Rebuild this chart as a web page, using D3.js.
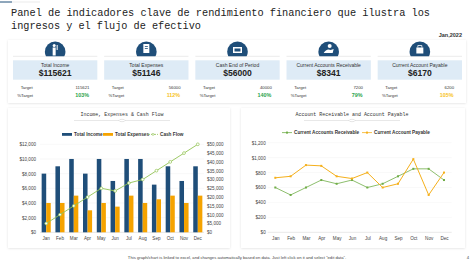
<!DOCTYPE html>
<html><head><meta charset="utf-8">
<script src="https://cdn.jsdelivr.net/npm/d3@7"></script>
<style>
body{margin:0;background:#fff;}
svg{display:block;font-family:Arial,"Liberation Sans",sans-serif;}
</style></head>
<body><svg id="c" width="474" height="266"></svg>
<script>
const months = ["Jan","Feb","Mar","Apr","May","Jun","Jul","Aug","Sep","Oct","Nov","Dec"];
const totalIncome = [8000,9000,10000,8000,10000,7000,10000,10000,6500,9000,7000,9000];
const totalExpenses = [4000,4000,5000,3000,4000,3500,5000,4000,4500,5000,4000,5000];
const cashFlow = [5000,10000,15000,20000,25000,23500,28000,30000,35000,40000,45000,50000];
const receivable = [600,500,600,700,650,700,600,650,750,850,850,700];
const payable = [730,750,900,890,750,720,800,600,650,980,500,800];
const leftTicks = [0,2000,4000,6000,8000,10000,12000];
const rightTicks = [0,5000,10000,15000,20000,25000,30000,35000,40000,45000,50000];
const arTicks = [0,200,400,600,800,1000,1200];
const kpiLabels = ["Total Income","Total Expenses","Cash End of Period","Current Accounts Receivable","Current Account Payable"];
const kpiValues = ["$115621","$51146","$56000","$8341","$6170"];
const kpiTargets = ["115621","56000","40000","7200","6200"];
const kpiPercents = ["103%","112%","140%","79%","105%"];
const kpiGood = [true,false,true,true,false];

const svg = d3.select("#c");
const NAVY="#1f4e79", ORANGE="#f5a300", GREEN="#92c353", GREEN2="#70ad47";
const mono = "'Liberation Mono','DejaVu Sans Mono',monospace";

const defs = svg.append("defs");
const f = defs.append("filter").attr("id","sh").attr("x","-5%").attr("y","-5%").attr("width","110%").attr("height","115%");
f.append("feDropShadow").attr("dx",0).attr("dy",0.5).attr("stdDeviation",0.8).attr("flood-color","#000").attr("flood-opacity",0.12);

// decoration top-left
svg.append("line").attr("x1",0).attr("x2",12).attr("y1",2).attr("y2",2).attr("stroke",NAVY).attr("stroke-width",1);
svg.append("line").attr("x1",12).attr("x2",40).attr("y1",2).attr("y2",2).attr("stroke","#ddd").attr("stroke-width",0.6);

// Title
svg.append("text").attr("x",11).attr("y",15.5).attr("font-family",mono).attr("font-size",11)
  .attr("fill","#222").attr("textLength",419).attr("lengthAdjust","spacingAndGlyphs")
  .text("Panel de indicadores clave de rendimiento financiero que ilustra los");
svg.append("text").attr("x",11).attr("y",28.8).attr("font-family",mono).attr("font-size",11)
  .attr("fill","#222").attr("textLength",190).attr("lengthAdjust","spacingAndGlyphs")
  .text("ingresos y el flujo de efectivo");
svg.append("text").attr("x",462).attr("y",37).attr("text-anchor","end").attr("font-size",5.5)
  .attr("font-weight","bold").attr("fill","#333").text("Jan,2022");

// KPI panel
svg.append("rect").attr("x",8).attr("y",40).attr("width",458).attr("height",63).attr("fill","#fff").attr("filter","url(#sh)");
const cardX = d3.scaleBand().domain(d3.range(5)).range([13,462]).paddingInner(0.075);
kpiLabels.forEach((lab,i)=>{
  const x0 = cardX(i), w = cardX.bandwidth(), cx = x0+w/2;
  svg.append("line").attr("x1",x0).attr("x2",x0+w).attr("y1",56.3).attr("y2",56.3).attr("stroke","#e3e3e3").attr("stroke-width",0.7);
  const clipId="cl"+i;
  defs.append("clipPath").attr("id",clipId).append("rect").attr("x",cx-12).attr("y",38).attr("width",24).attr("height",18.3);
  svg.append("circle").attr("cx",cx).attr("cy",51.8).attr("r",10.3).attr("fill",NAVY).attr("clip-path",`url(#${clipId})`);
  const g = svg.append("g").attr("fill","#fff");
  if(i===0){g.append("circle").attr("cx",cx-1).attr("cy",45.5).attr("r",1.5);g.append("rect").attr("x",cx-2.5).attr("y",47.5).attr("width",3).attr("height",8);g.append("rect").attr("x",cx+1.5).attr("y",45).attr("width",1).attr("height",5);}
  if(i===1){g.append("rect").attr("x",cx-3).attr("y",44).attr("width",6).attr("height",9);g.append("rect").attr("x",cx-1.5).attr("y",46).attr("width",3).attr("height",0.8).attr("fill",NAVY);g.append("rect").attr("x",cx-1.5).attr("y",48).attr("width",3).attr("height",0.8).attr("fill",NAVY);}
  if(i===2){g.append("rect").attr("x",cx-4.5).attr("y",47).attr("width",9).attr("height",6);g.append("rect").attr("x",cx-3).attr("y",48.5).attr("width",6).attr("height",3).attr("fill",NAVY);}
  if(i===3){g.append("path").attr("d",`M${cx-5},53 Q${cx-2},48 ${cx+2},50 L${cx+5},49 L${cx+4},53 Z`);g.append("circle").attr("cx",cx+1).attr("cy",46).attr("r",2);}
  if(i===4){g.append("rect").attr("x",cx-3.5).attr("y",47.5).attr("width",7).attr("height",6);g.append("path").attr("d",`M${cx-2},47.5 v-2 h4 v2`).attr("fill","none").attr("stroke","#fff").attr("stroke-width",0.8);}
  svg.append("rect").attr("x",x0).attr("y",60.3).attr("width",w).attr("height",19.4).attr("fill","#deebf6");
  svg.append("text").attr("x",cx).attr("y",66.7).attr("text-anchor","middle").attr("font-size",5).attr("fill","#333").text(lab);
  svg.append("text").attr("x",cx).attr("y",76.4).attr("text-anchor","middle").attr("font-size",8.6).attr("font-weight","bold").attr("fill","#222").text(kpiValues[i]);
  svg.append("text").attr("x",x0+7.7).attr("y",89).attr("font-size",4.3).attr("fill","#333").text("Target");
  svg.append("text").attr("x",x0+4.3).attr("y",97).attr("font-size",4.3).attr("fill","#333").text("%Target");
  svg.append("text").attr("x",x0+76.5).attr("y",89).attr("text-anchor","end").attr("font-size",4.3).attr("fill","#333").text(kpiTargets[i]);
  svg.append("text").attr("x",x0+76).attr("y",97.3).attr("text-anchor","end").attr("font-size",5.4).attr("font-weight","bold")
    .attr("fill",kpiGood[i]?"#2ca44e":"#f7c325").text(kpiPercents[i]);
});

// Panels
svg.append("rect").attr("x",8).attr("y",108).attr("width",222).attr("height",140).attr("fill","#fff").attr("filter","url(#sh)");
svg.append("rect").attr("x",241).attr("y",108).attr("width",224).attr("height",140).attr("fill","#fff").attr("filter","url(#sh)");

function chartTitle(cx, y, txt, len){
  svg.append("text").attr("x",cx).attr("y",y).attr("text-anchor","middle").attr("font-family",mono).attr("font-size",6)
    .attr("fill","#333").attr("textLength",len).attr("lengthAdjust","spacingAndGlyphs").text(txt);
  svg.append("line").attr("x1",cx-48).attr("x2",cx+48).attr("y1",120.5).attr("y2",120.5).attr("stroke","#d8d8d8").attr("stroke-width",0.6);
  svg.append("ellipse").attr("cx",cx).attr("cy",120.5).attr("rx",3).attr("ry",1.2).attr("fill","#fff").attr("stroke","#ccc").attr("stroke-width",0.5);
}

// ---- Left chart
chartTitle(122, 116, "Income, Expenses & Cash Flow", 83);
const x = d3.scaleBand().domain(months).range([40,204]).paddingInner(0.34).paddingOuter(0.12);
const xs = d3.scaleBand().domain(["i","e"]).range([0,x.bandwidth()]);
const yL = d3.scaleLinear().domain([0,12000]).range([232.3,144.3]);
const yR = d3.scaleLinear().domain([0,50000]).range([232.3,144.3]);

svg.append("g").selectAll("line").data(leftTicks).join("line")
  .attr("x1",40).attr("x2",204).attr("y1",d=>yL(d)).attr("y2",d=>yL(d)).attr("stroke","#f0f0f0").attr("stroke-width",0.5);

const axL = svg.append("g").attr("transform","translate(40,0)")
  .call(d3.axisLeft(yL).tickValues(leftTicks).tickSize(0).tickPadding(4).tickFormat(d=>"$"+d3.format(",")(d)));
const axR = svg.append("g").attr("transform","translate(204,0)")
  .call(d3.axisRight(yR).tickValues(rightTicks).tickSize(0).tickPadding(3).tickFormat(d=>"$"+d3.format(",")(d)));
const axB = svg.append("g").attr("transform","translate(0,232.3)")
  .call(d3.axisBottom(x).tickSize(0).tickPadding(4));
[axL,axR,axB].forEach(a=>{a.select(".domain").remove();a.selectAll("text").attr("font-size",4.6).attr("fill","#444").attr("font-family","Arial,'Liberation Sans',sans-serif");});
svg.append("line").attr("x1",40).attr("x2",204).attr("y1",232.3).attr("y2",232.3).attr("stroke","#d9d9d9").attr("stroke-width",0.6);

svg.append("g").selectAll("rect").data(months).join("rect")
  .attr("x",(m)=>x(m)+xs("i")).attr("width",xs.bandwidth())
  .attr("y",(m,i)=>yL(totalIncome[i])).attr("height",(m,i)=>yL(0)-yL(totalIncome[i])).attr("fill",NAVY);
svg.append("g").selectAll("rect").data(months).join("rect")
  .attr("x",(m)=>x(m)+xs("e")).attr("width",xs.bandwidth())
  .attr("y",(m,i)=>yL(totalExpenses[i])).attr("height",(m,i)=>yL(0)-yL(totalExpenses[i])).attr("fill",ORANGE);
const cfLine = d3.line().x((d,i)=>x(months[i])+x.bandwidth()/2).y(d=>yR(d));
svg.append("path").datum(cashFlow).attr("d",cfLine).attr("fill","none").attr("stroke",GREEN).attr("stroke-width",0.9);
svg.append("g").selectAll("circle").data(cashFlow).join("circle")
  .attr("cx",(d,i)=>x(months[i])+x.bandwidth()/2).attr("cy",d=>yR(d)).attr("r",1.4)
  .attr("fill","#fff").attr("stroke",GREEN).attr("stroke-width",0.7);

// legend left
const lgY = 135.8;
svg.append("rect").attr("x",62).attr("y",lgY-2.8).attr("width",10).attr("height",2.8).attr("fill",NAVY);
svg.append("text").attr("x",74).attr("y",lgY).attr("font-size",4.7).attr("font-weight","bold").attr("fill","#333").text("Total Income");
svg.append("rect").attr("x",103).attr("y",lgY-2.8).attr("width",10).attr("height",2.8).attr("fill",ORANGE);
svg.append("text").attr("x",115).attr("y",lgY).attr("font-size",4.7).attr("font-weight","bold").attr("fill","#333").text("Total Expenses");
svg.append("line").attr("x1",148).attr("x2",158).attr("y1",lgY-1.4).attr("y2",lgY-1.4).attr("stroke",GREEN).attr("stroke-width",0.8).attr("stroke-dasharray","2,1");
svg.append("circle").attr("cx",153).attr("cy",lgY-1.4).attr("r",1).attr("fill","#fff").attr("stroke",GREEN).attr("stroke-width",0.6);
svg.append("text").attr("x",160).attr("y",lgY).attr("font-size",4.7).attr("font-weight","bold").attr("fill","#333").text("Cash Flow");

// ---- Right chart
chartTitle(352, 116, "Account Receivable and Account Payable", 113);
const x2 = d3.scalePoint().domain(months).range([275.3,444]);
const y2 = d3.scaleLinear().domain([0,1200]).range([232.3,142.7]);
svg.append("g").selectAll("line").data(arTicks.slice(1)).join("line")
  .attr("x1",267.7).attr("x2",451.7).attr("y1",d=>y2(d)).attr("y2",d=>y2(d)).attr("stroke","#f2f2f2").attr("stroke-width",0.5);
const ax2L = svg.append("g").attr("transform","translate(267.7,0)")
  .call(d3.axisLeft(y2).tickValues(arTicks).tickSize(0).tickPadding(2).tickFormat(d=>"$"+d3.format(",")(d)));
const ax2B = svg.append("g").attr("transform","translate(0,232.3)")
  .call(d3.axisBottom(x2).tickSize(0).tickPadding(4));
[ax2L,ax2B].forEach(a=>{a.select(".domain").remove();a.selectAll("text").attr("font-size",4.6).attr("fill","#444").attr("font-family","Arial,'Liberation Sans',sans-serif");});
svg.append("line").attr("x1",267.7).attr("x2",451.7).attr("y1",232.3).attr("y2",232.3).attr("stroke","#d9d9d9").attr("stroke-width",0.6);

function series(data,color,w){
  const ln = d3.line().x((d,i)=>x2(months[i])).y(d=>y2(d));
  svg.append("path").datum(data).attr("d",ln).attr("fill","none").attr("stroke",color).attr("stroke-width",w);
  svg.append("g").selectAll("rect").data(data).join("rect")
    .attr("x",(d,i)=>x2(months[i])-1).attr("y",d=>y2(d)-1).attr("width",2).attr("height",2).attr("fill",color);
}
series(receivable,GREEN2,0.8);
series(payable,"#f5b01c",1.0);

const lg2Y = 134;
svg.append("line").attr("x1",282).attr("x2",292).attr("y1",lg2Y-1.4).attr("y2",lg2Y-1.4).attr("stroke",GREEN2).attr("stroke-width",0.8);
svg.append("rect").attr("x",286).attr("y",lg2Y-2.4).attr("width",2).attr("height",2).attr("fill",GREEN2);
svg.append("text").attr("x",294).attr("y",lg2Y).attr("font-size",4.7).attr("font-weight","bold").attr("fill","#333").text("Current Accounts Receivable");
svg.append("line").attr("x1",362).attr("x2",372).attr("y1",lg2Y-1.4).attr("y2",lg2Y-1.4).attr("stroke","#f5b01c").attr("stroke-width",0.8);
svg.append("rect").attr("x",366).attr("y",lg2Y-2.4).attr("width",2).attr("height",2).attr("fill","#f5b01c");
svg.append("text").attr("x",374).attr("y",lg2Y).attr("font-size",4.7).attr("font-weight","bold").attr("fill","#333").text("Current Account Payable");

// footer
svg.append("text").attr("x",237).attr("y",258.5).attr("text-anchor","middle").attr("font-size",4.2).attr("fill","#444")
  .text("This graph/chart is linked to excel, and changes automatically based on data. Just left click on it and select \u201cedit data\u201d.");
svg.append("text").attr("x",468).attr("y",258.5).attr("text-anchor","middle").attr("font-size",4.2).attr("fill","#444").text("4");
</script></body></html>
